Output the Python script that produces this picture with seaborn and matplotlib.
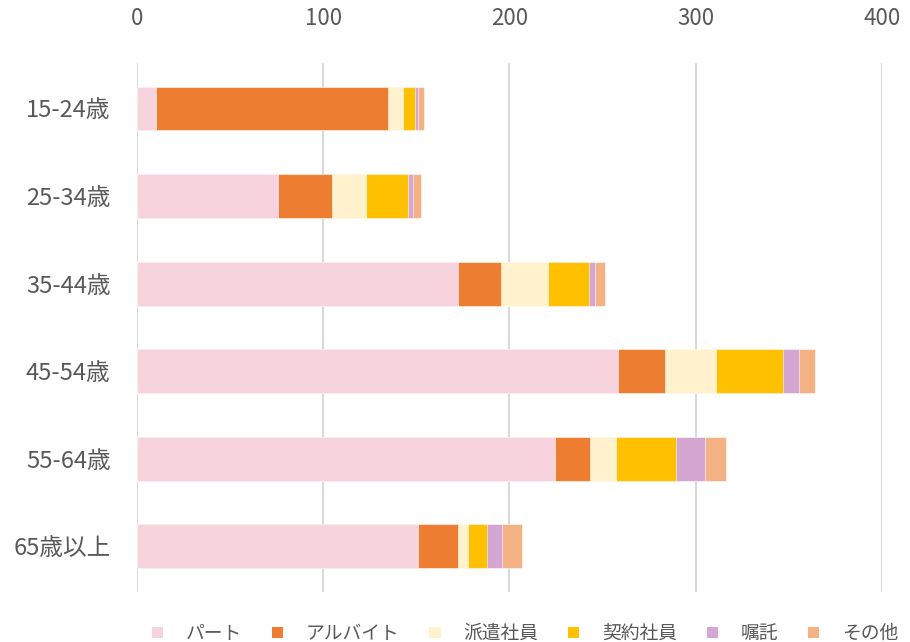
import pandas as pd
import seaborn as sns
import matplotlib.pyplot as plt
from matplotlib.patches import Patch

ages = ["15-24歳", "25-34歳", "35-44歳", "45-54歳", "55-64歳", "65歳以上"]
series = ["パート", "アルバイト", "派遣社員", "契約社員", "嘱託", "その他"]

part = [10, 76, 172.5, 258.5, 224.5, 151]
arbeit = [125, 28.5, 23, 25.3, 18.7, 21.3]
haken = [8, 18.5, 25, 27, 14.3, 5.7]
keiyaku = [6.5, 22.5, 22.5, 36, 32.2, 10.2]
shokutaku = [1.5, 2.7, 3.2, 9, 15.3, 7.9]
other = [3, 4.5, 5.2, 8.4, 11.6, 10.9]

colors = ["#F6D3DD", "#ED7D31", "#FFF2CC", "#FFC000", "#D5A6D1", "#F4B183"]

df = pd.DataFrame(
    {"age": ages, "パート": part, "アルバイト": arbeit, "派遣社員": haken,
     "契約社員": keiyaku, "嘱託": shokutaku, "その他": other}
)
cum = df[series].cumsum(axis=1)
cum["age"] = df["age"]

sns.set_theme(style="white")
plt.rcParams["font.family"] = ["Noto Sans CJK JP", "DejaVu Sans"]
text_color = "#595959"

fig = plt.figure(figsize=(9.1, 6.42), dpi=100)
ax = fig.add_axes([0.1505, 0.078, 0.8185, 0.824])

# stacked bars: draw running totals from the largest down so each covers the next
for name, color in reversed(list(zip(series, colors))):
    sns.barplot(data=cum, y="age", x=name, order=ages, orient="h",
                color=color, width=0.5, saturation=1, edgecolor="white",
                linewidth=0.4, ax=ax)

ax.set_xlim(0, 400)
ax.set_ylim(5.52, -0.52)
ax.set_xticks([0, 100, 200, 300, 400])
ax.xaxis.tick_top()
ax.set_xlabel("")
ax.set_ylabel("")
ax.grid(axis="x", color="#D9D9D9", linewidth=1.5)
ax.set_axisbelow(True)
for s in ax.spines.values():
    s.set_visible(False)
ax.tick_params(axis="x", length=0, pad=24, labelsize=16, labelcolor=text_color)
ax.tick_params(axis="y", length=0, pad=19, labelsize=17, labelcolor=text_color)

handles = [Patch(facecolor=c, edgecolor="none", label=n) for n, c in zip(series, colors)]
fig.legend(handles=handles, loc="center", bbox_to_anchor=(0.577, 0.013), ncol=6,
           frameon=False, fontsize=13.5, labelcolor=text_color,
           handlelength=0.6, handleheight=0.6, handletextpad=1.2,
           columnspacing=1.6)

fig.savefig("out.png", dpi=100)
